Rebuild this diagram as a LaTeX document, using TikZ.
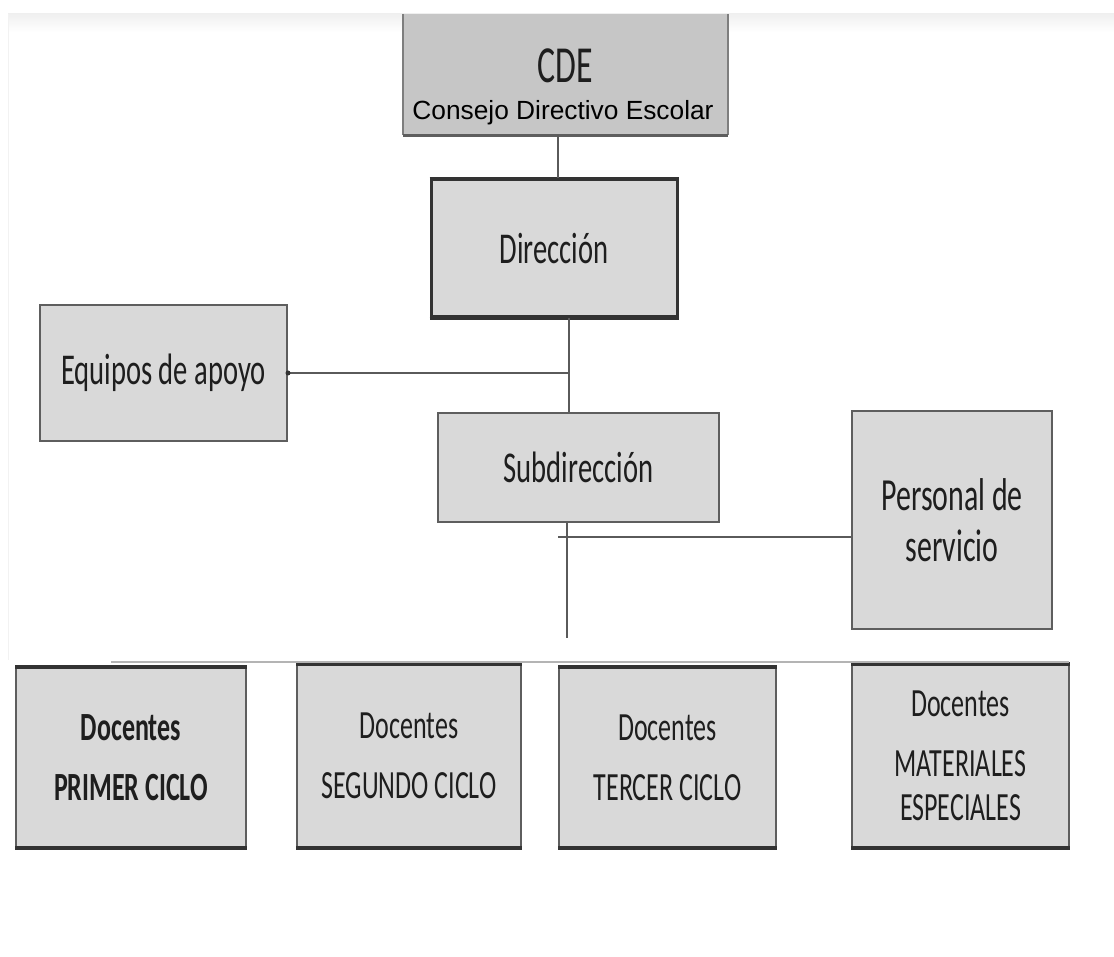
\documentclass[tikz,border=0pt]{standalone}
\usepackage{fontspec}
\setmainfont{Carlito}[FakeStretch=0.65]
\newfontfamily\arialf{Liberation Sans}
\usetikzlibrary{calc}
\definecolor{boxfill}{HTML}{D9D9D9}
\definecolor{cdefill}{HTML}{C6C6C6}
\definecolor{boxline}{HTML}{5E5E5E}
\definecolor{darkline}{HTML}{333333}
\definecolor{connline}{HTML}{5A5A5A}
\definecolor{barline}{HTML}{B4B4B4}
\definecolor{txt}{HTML}{1E1E1E}
\tikzset{
  orgbox/.style={rectangle, fill=boxfill, draw=boxline, line width=2pt, inner sep=0pt, text=txt, align=center},
  bigtxt/.style={font=\fontsize{44}{50}\selectfont},
  doctxt/.style={font=\fontsize{40}{60}\selectfont},
  conn/.style={draw=connline, line width=1.6pt},
  heavy/.style={draw=darkline, line width=3.5pt},
}
\begin{document}
\begin{tikzpicture}[x=1pt,y=-1pt]
\useasboundingbox (0,0) rectangle (1114,957);
\fill[white] (0,0) rectangle (1114,957);
% faint frame of the original picture
\shade[top color=gray!12, bottom color=white] (8,14) rectangle (1114,32);
\draw[gray!10, line width=1pt] (8,14) -- (8,660);

% CDE box
\node[rectangle, fill=cdefill, inner sep=0pt, minimum width=325pt, minimum height=121pt] (cde) at (565.5,74.5) {};
\draw[boxline!80, line width=1.6pt] (cde.north west) -- (cde.south west);
\draw[boxline!80, line width=1.6pt] (cde.north east) -- (cde.south east);
\draw[boxline, line width=3pt] (cde.south west) -- (cde.south east);
\node[anchor=base, text=txt, font=\fontsize{52}{60}\selectfont, inner sep=0pt] (cdet) at (565,83) {CDE};
\node[anchor=base, text=black, font=\arialf\fontsize{26.3}{30}\selectfont, inner sep=0pt] (cdes) at (563,120) {Consejo Directivo Escolar};

% Direccion
\node[orgbox, bigtxt, draw=darkline, line width=3pt, minimum width=246pt, minimum height=137pt] (dir) at (554,248.5) {Dirección};
\draw[heavy] (dir.north west) -- (dir.north east);
\draw[heavy] (dir.south west) -- (dir.south east);

% Equipos de apoyo
\node[orgbox, bigtxt, minimum width=247pt, minimum height=136pt] (eq) at (163.5,373) {Equipos de apoyo};

% Subdireccion
\node[orgbox, bigtxt, minimum width=281pt, minimum height=109pt] (sub) at (578.5,467.5) {Subdirección};

% Personal de servicio
\node[orgbox, font=\fontsize{46}{51}\selectfont, minimum width=200pt, minimum height=218pt] (per) at (952,520) {Personal de\\servicio};

% Docentes
\node[orgbox, doctxt, minimum width=230pt, minimum height=179pt] (b1) at (131,757.5) {\bfseries Docentes\\\bfseries PRIMER CICLO};
\node[orgbox, doctxt, minimum width=224pt, minimum height=182pt] (b2) at (409,756) {Docentes\\SEGUNDO CICLO};
\node[orgbox, doctxt, minimum width=217pt, minimum height=179pt] (b3) at (667.5,757.5) {Docentes\\TERCER CICLO};
\node[orgbox, doctxt, minimum width=217pt, minimum height=182pt] (b4) at (960.5,756) {Docentes\\MATERIALES\\[-16pt]ESPECIALES};
\foreach \b in {b1,b2,b3,b4}{
  \draw[heavy] (\b.north west) -- (\b.north east);
  \draw[heavy] (\b.south west) -- (\b.south east);
}

% connectors
\coordinate (s1) at (569,373);
\coordinate (s2) at (567,638);
\coordinate (j2) at (558,537);
\coordinate (bl) at (111,662);
\coordinate (br) at (1069,662);
\draw[conn] ([xshift=-7.5pt]cde.south) -- ([xshift=-7.5pt]cde.south |- dir.north);
\draw[conn] (dir.south -| s1) -- (sub.north -| s1);
\draw[conn] (eq.east) -- (s1);
\fill[darkline] (eq.east) circle (2.5pt);
\draw[conn] (sub.south -| s2) -- (s2);
\draw[conn] (j2) -- (j2 -| per.west);
\draw[barline, line width=1.8pt] (bl) -- (br);
\end{tikzpicture}
\end{document}
